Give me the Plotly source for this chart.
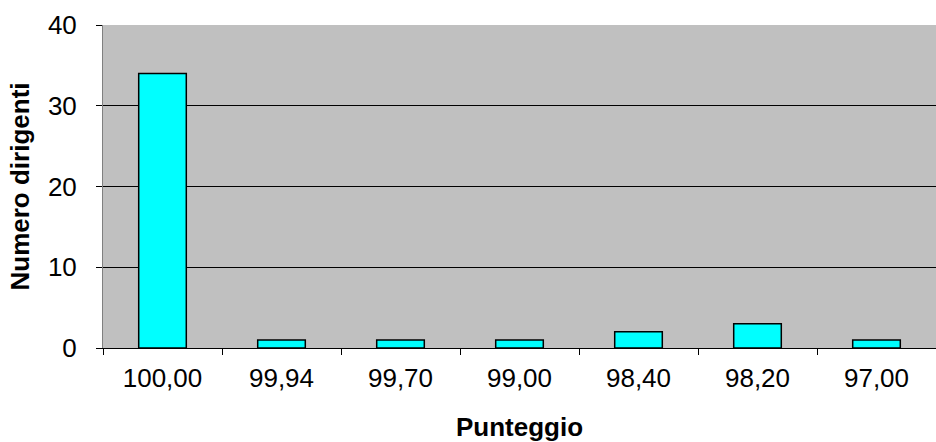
import plotly.graph_objects as go

categorie = ["100,00", "99,94", "99,70", "99,00", "98,40", "98,20", "97,00"]
numero_dirigenti = [34, 1, 1, 1, 2, 3, 1]
y_ticks = [0, 10, 20, 30, 40]

font_family = "Liberation Sans, Arial, sans-serif"

fig = go.Figure(
    go.Bar(
        x=categorie,
        y=numero_dirigenti,
        width=0.4,
        marker=dict(color="#00FFFF", line=dict(color="#000000", width=1.5)),
    )
)

fig.update_layout(
    width=936,
    height=442,
    margin=dict(l=103, r=0, t=25, b=94),
    paper_bgcolor="#FFFFFF",
    plot_bgcolor="#C0C0C0",
    font=dict(family=font_family, size=26, color="#000000"),
    showlegend=False,
    bargap=0.6,
)

fig.update_xaxes(
    type="category",
    showline=True,
    linecolor="#000000",
    linewidth=1,
    ticks="outside",
    tickson="boundaries",
    ticklen=6,
    tickcolor="#000000",
    ticklabelstandoff=7,
    showgrid=False,
    title=dict(text="<b>Punteggio</b>", font=dict(size=26), standoff=25),
)

fig.update_yaxes(
    range=[0, 40],
    tickvals=y_ticks,
    showline=True,
    linecolor="#808080",
    linewidth=1,
    ticks="outside",
    ticklen=6,
    tickcolor="#000000",
    ticklabelstandoff=14,
    showgrid=True,
    gridcolor="#000000",
    gridwidth=1,
    zeroline=False,
    title=dict(text="<b>Numero dirigenti</b>", font=dict(size=26), standoff=10),
)

fig.write_html("out.html")
